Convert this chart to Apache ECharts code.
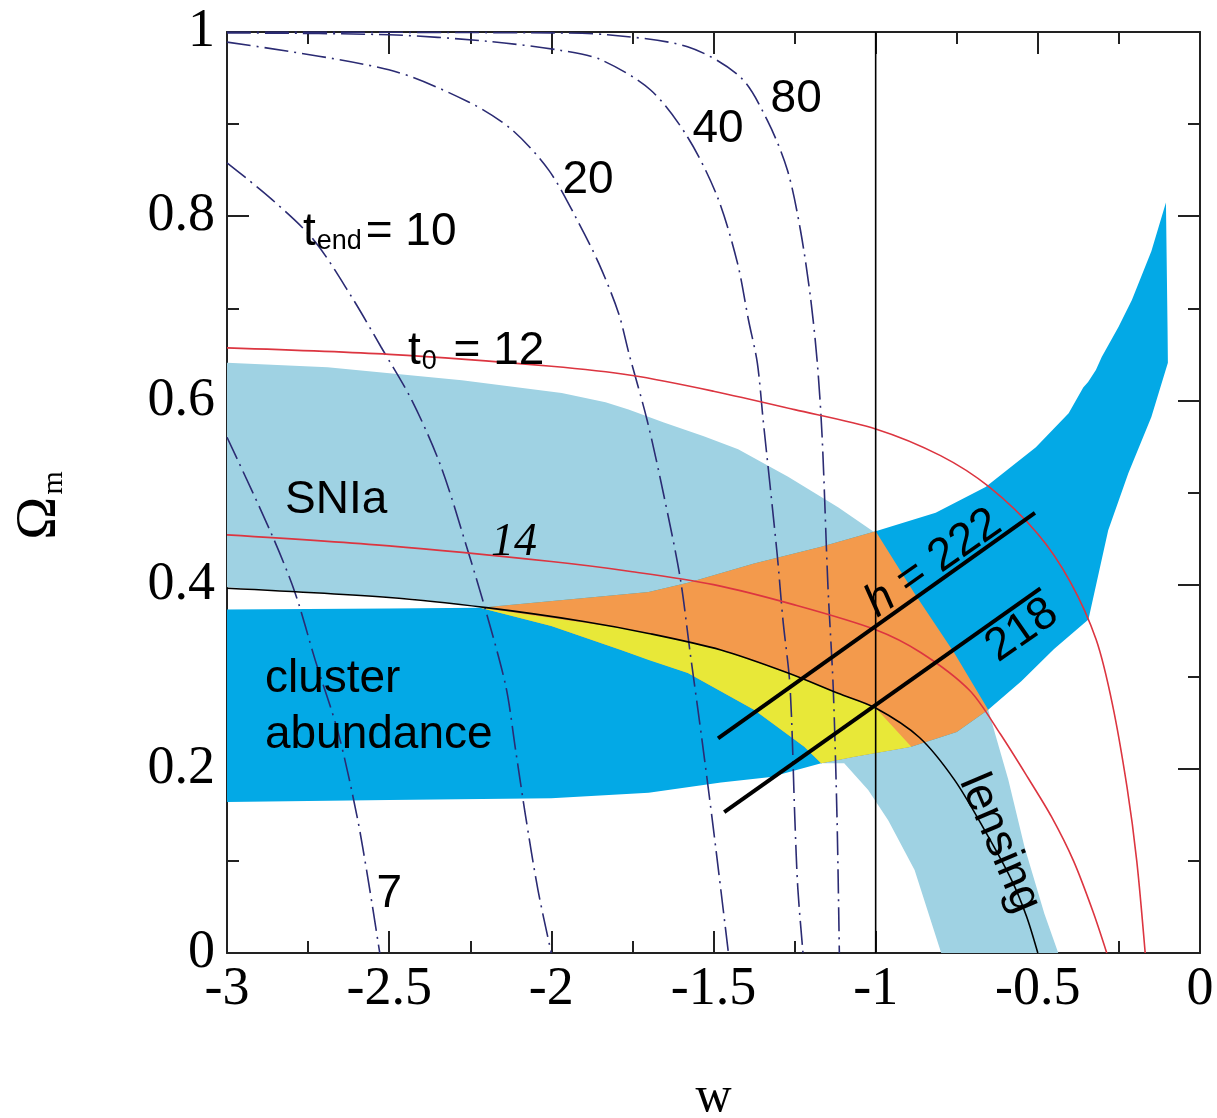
<!DOCTYPE html>
<html>
<head>
<meta charset="utf-8">
<script src="https://cdn.jsdelivr.net/npm/echarts@6/dist/echarts.min.js"></script>
<style>
  html, body { margin: 0; padding: 0; background: #ffffff; }
  #chart { width: 1217px; height: 1118px; }
</style>
</head>
<body>
<div id="chart"></div>
<script>
// ---------- tick labels ----------
const xTickValues = [-3, -2.5, -2, -1.5, -1, -0.5, 0];
const xTickLabels = ['-3', '-2.5', '-2', '-1.5', '-1', '-0.5', '0'];
const yTickValues = [0, 0.2, 0.4, 0.6, 0.8, 1];
const yTickLabels = ['0', '0.2', '0.4', '0.6', '0.8', '1'];

// ---------- constraint regions (w, Omega_m) ----------
const snia = [
  [-3, 0.641], [-2.69, 0.636], [-2.276, 0.622], [-1.968, 0.608], [-1.833, 0.598],
  [-1.762, 0.590], [-1.653, 0.576], [-1.53, 0.561], [-1.424, 0.547], [-1.27, 0.517], [-1.116, 0.484],
  [-1.005, 0.457], [-0.881, 0.391], [-0.758, 0.326], [-0.653, 0.264], [-0.591, 0.188],
  [-0.541, 0.115], [-0.48, 0.043], [-0.437, 0.0], [-0.798, 0.0], [-0.88, 0.09],
  [-0.961, 0.144], [-1.023, 0.177], [-1.097, 0.206], [-1.168, 0.206], [-1.22, 0.224],
  [-1.375, 0.264], [-1.579, 0.304], [-1.70, 0.318], [-1.785, 0.329], [-2.0, 0.355],
  [-2.22, 0.376], [-2.43, 0.385], [-3, 0.397]
];
const cluster = [
  [-3, 0.373], [-2.5, 0.374], [-2.22, 0.375], [-1.70, 0.392], [-1.579, 0.402],
  [-1.375, 0.423], [-1.168, 0.441], [-1.0, 0.458], [-0.815, 0.478], [-0.661, 0.506],
  [-0.506, 0.549], [-0.405, 0.586], [-0.36, 0.614], [-0.345, 0.62], [-0.321, 0.633],
  [-0.303, 0.647], [-0.251, 0.680], [-0.21, 0.709], [-0.15, 0.762], [-0.105, 0.815],
  [-0.1, 0.676], [-0.099, 0.641], [-0.15, 0.582], [-0.221, 0.521], [-0.283, 0.459],
  [-0.344, 0.362], [-0.45, 0.33], [-0.551, 0.295], [-0.653, 0.264], [-0.75, 0.24],
  [-0.89, 0.224], [-1.066, 0.213], [-1.168, 0.206], [-1.323, 0.191], [-1.477, 0.185],
  [-1.70, 0.174], [-2.0, 0.168], [-2.5, 0.166], [-3, 0.164]
];
const overlapOrange = [
  [-2.22, 0.375], [-1.70, 0.392], [-1.579, 0.402], [-1.375, 0.423], [-1.168, 0.441],
  [-1.0, 0.458], [-0.881, 0.391], [-0.758, 0.326], [-0.653, 0.264], [-0.75, 0.24],
  [-0.89, 0.224], [-1.066, 0.213], [-1.168, 0.206], [-1.22, 0.224], [-1.375, 0.264],
  [-1.579, 0.304], [-1.785, 0.329], [-2.0, 0.355]
];
const overlapYellow = [
  [-2.22, 0.375], [-1.785, 0.353], [-1.70, 0.347], [-1.477, 0.329], [-1.27, 0.304],
  [-1.116, 0.282], [-1.0, 0.266], [-0.89, 0.224], [-1.066, 0.213], [-1.168, 0.206],
  [-1.22, 0.224], [-1.375, 0.264], [-1.579, 0.304], [-1.70, 0.318], [-1.785, 0.329],
  [-2.0, 0.355]
];

// ---------- curves ----------
const lensing = [
  [-3, 0.396], [-2.5, 0.386], [-2.2, 0.375], [-1.9, 0.36], [-1.7, 0.347],
  [-1.477, 0.329], [-1.27, 0.304], [-1.116, 0.282], [-1.0, 0.266], [-0.865, 0.234],
  [-0.757, 0.188], [-0.665, 0.134], [-0.582, 0.08], [-0.535, 0.04], [-0.5, 0]
];
const t0_12 = [
  [-3, 0.657], [-2.5, 0.650], [-2.0, 0.637], [-1.75, 0.627], [-1.5, 0.610],
  [-1.25, 0.590], [-1.0, 0.569], [-0.8, 0.540], [-0.65, 0.506], [-0.5, 0.455],
  [-0.4, 0.403], [-0.32, 0.34], [-0.27, 0.27], [-0.225, 0.18], [-0.195, 0.1], [-0.169, 0]
];
const t0_14 = [
  [-3, 0.454], [-2.5, 0.442], [-2.0, 0.425], [-1.75, 0.414], [-1.5, 0.400],
  [-1.25, 0.378], [-1.0, 0.351], [-0.86, 0.326], [-0.71, 0.285], [-0.616, 0.238],
  [-0.53, 0.19], [-0.458, 0.148], [-0.39, 0.1], [-0.33, 0.045], [-0.2875, 0]
];
const tEnd7 = [
  [-3, 0.56], [-2.864, 0.456], [-2.79, 0.391], [-2.728, 0.318], [-2.657, 0.239],
  [-2.60, 0.15], [-2.565, 0.08], [-2.529, 0]
];
const tEnd10 = [
  [-3, 0.858], [-2.861, 0.818], [-2.732, 0.774], [-2.615, 0.712], [-2.525, 0.658],
  [-2.43, 0.6], [-2.34, 0.528], [-2.255, 0.434], [-2.2, 0.369], [-2.14, 0.289],
  [-2.11, 0.22], [-2.08, 0.15], [-2.041, 0.068], [-2.0, 0]
];
const tEnd20 = [
  [-3, 0.989], [-2.501, 0.959], [-2.255, 0.924], [-2.122, 0.894], [-2.008, 0.85],
  [-1.925, 0.799], [-1.854, 0.749], [-1.793, 0.695], [-1.76, 0.65], [-1.705, 0.579],
  [-1.655, 0.5], [-1.603, 0.408], [-1.572, 0.326], [-1.535, 0.23], [-1.50, 0.134], [-1.454, 0]
];
const tEnd40 = [
  [-3, 0.999], [-2.5, 0.997], [-2.2, 0.99], [-1.97, 0.98], [-1.848, 0.97],
  [-1.694, 0.937], [-1.58, 0.886], [-1.488, 0.821], [-1.426, 0.749], [-1.392, 0.687],
  [-1.365, 0.641], [-1.347, 0.579], [-1.304, 0.434], [-1.286, 0.362], [-1.264, 0.289],
  [-1.249, 0.144], [-1.24, 0.07], [-1.224, 0]
];
const tEnd80 = [
  [-3, 1.0], [-2.0, 0.999], [-1.827, 0.997], [-1.58, 0.984], [-1.417, 0.951],
  [-1.334, 0.904], [-1.272, 0.85], [-1.232, 0.785], [-1.201, 0.712], [-1.18, 0.641],
  [-1.165, 0.56], [-1.147, 0.397], [-1.131, 0.289], [-1.119, 0.144], [-1.112, 0]
];
const wMinusOne = [[-1, 0], [-1, 1]];
const h222 = [[-1.486, 0.233], [-0.509, 0.478]];
const h218 = [[-1.467, 0.153], [-0.492, 0.396]];

// ---------- annotations: [text, w, Omega_m, anchor, rotate] ----------
const annotations = [
  ['{t|t}{s|end}{t|= 10}', -2.766, 0.785, 'left', 0],
  ['{t|t}{s|0}{t| = 12}', -2.442, 0.655, 'left', 0],
  ['{t|SNIa}', -2.821, 0.494, 'left', 0],
  ['{t|cluster}', -2.883, 0.299, 'left', 0],
  ['{t|abundance}', -2.883, 0.239, 'left', 0],
  ['{t|20}', -1.887, 0.841, 'center', 0],
  ['{t|40}', -1.486, 0.897, 'center', 0],
  ['{t|80}', -1.245, 0.929, 'center', 0],
  ['{t|7}', -2.50, 0.066, 'center', 0],
  ['{it|14}', -2.115, 0.445, 'center', 0],
  ['{h|h}{t| = 222}', -0.826, 0.425, 'center', 35],
  ['{t|218}', -0.552, 0.352, 'center', 35],
  ['{t|lensing}', -0.612, 0.12, 'center', -67]
];

const C = {
  lightBlue: '#9fd2e3',
  brightBlue: '#03a9e6',
  orange: '#f39a4c',
  yellow: '#e8e838',
  red: '#dc3540',
  navy: '#2b2b73',
  black: '#000000'
};

function pickLabel(values, labels) {
  return function (v) {
    for (let i = 0; i < values.length; i++) {
      if (Math.abs(values[i] - v) < 1e-9) return labels[i];
    }
    return '';
  };
}

function polygonSeries(name, pts, color, z) {
  return {
    type: 'custom', name: name, coordinateSystem: 'cartesian2d',
    xAxisIndex: 0, yAxisIndex: 0, data: pts, encode: { x: 0, y: 1 },
    z: z, silent: true,
    renderItem: function (params, api) {
      if (params.dataIndex !== 0) return null;
      return {
        type: 'polygon',
        shape: { points: pts.map(function (p) { return api.coord(p); }) },
        style: { fill: color, stroke: null }
      };
    }
  };
}

function lineSeries(name, pts, color, width, type, smooth, z) {
  return {
    type: 'line', name: name, data: pts, xAxisIndex: 0, yAxisIndex: 0,
    showSymbol: false, symbol: 'none', smooth: smooth, z: z, silent: true,
    lineStyle: { color: color, width: width, type: type, cap: 'butt' }
  };
}

const dashDot = [24, 6, 2, 6];

const labelSeries = {
  type: 'scatter', name: 'labels', xAxisIndex: 0, yAxisIndex: 0, z: 30, silent: true,
  symbolSize: 0,
  itemStyle: { opacity: 1 },
  data: annotations.map(function (a) {
    return {
      value: [a[1], a[2]],
      label: {
        show: true,
        formatter: a[0],
        position: a[3] === 'left' ? 'right' : 'inside',
        distance: 0,
        rotate: a[4],
        align: a[3] === 'left' ? 'left' : 'center',
        verticalAlign: 'middle'
      }
    };
  }),
  label: {
    show: true,
    color: C.black,
    opacity: 1,
    rich: {
      t: { fontFamily: 'Liberation Sans', fontSize: 46, color: C.black, lineHeight: 50, verticalAlign: 'bottom' },
      s: { fontFamily: 'Liberation Sans', fontSize: 27, color: C.black, lineHeight: 30, verticalAlign: 'bottom', padding: [0, 4, 0, 1] },
      h: { fontFamily: 'Liberation Sans', fontStyle: 'italic', fontSize: 46, color: C.black, lineHeight: 50, verticalAlign: 'bottom' },
      it: { fontFamily: 'Liberation Serif', fontStyle: 'italic', fontSize: 46, color: C.black, lineHeight: 50 }
    }
  }
};

const axisCommon = {
  type: 'value',
  axisLine: { show: true, onZero: false, lineStyle: { color: '#222', width: 2 } },
  axisTick: { show: true, inside: true, length: 22, lineStyle: { color: '#222', width: 2 } },
  minorTick: { show: true, splitNumber: 2, length: 12, lineStyle: { color: '#222', width: 2 } },
  splitLine: { show: false },
  minorSplitLine: { show: false }
};

const chart = echarts.init(document.getElementById('chart'), null, { renderer: 'canvas' });
chart.setOption({
  animation: false,
  backgroundColor: '#ffffff',
  grid: { left: 227, top: 32, width: 973, height: 921, show: false, containLabel: false, outerBoundsMode: 'none' },
  xAxis: [
    Object.assign({}, axisCommon, {
      min: -3, max: 0, interval: 0.5, position: 'bottom',
      axisLabel: {
        show: true, margin: 10, fontFamily: 'Liberation Serif', fontSize: 54, color: C.black,
        formatter: pickLabel(xTickValues, xTickLabels)
      },
      name: 'w', nameLocation: 'middle', nameGap: 120,
      nameTextStyle: { fontFamily: 'Liberation Serif', fontSize: 50, color: C.black }
    }),
    Object.assign({}, axisCommon, {
      min: -3, max: 0, interval: 0.5, position: 'top', axisLabel: { show: false }
    })
  ],
  yAxis: [
    Object.assign({}, axisCommon, {
      min: 0, max: 1, interval: 0.2, position: 'left',
      axisLabel: {
        show: true, margin: 12, fontFamily: 'Liberation Serif', fontSize: 54, color: C.black,
        formatter: pickLabel(yTickValues, yTickLabels)
      },
      name: '{o|Ω}{m|m}', nameLocation: 'middle', nameRotate: 90, nameGap: 158,
      nameTextStyle: {
        padding: [0, 26, 0, 0],
        rich: {
          o: { fontFamily: 'Liberation Serif', fontSize: 58, color: C.black, lineHeight: 58, verticalAlign: 'bottom' },
          m: { fontFamily: 'Liberation Serif', fontSize: 30, color: C.black, lineHeight: 30, verticalAlign: 'bottom', padding: [0, 0, 0, 2] }
        }
      }
    }),
    Object.assign({}, axisCommon, {
      min: 0, max: 1, interval: 0.2, position: 'right', axisLabel: { show: false }
    })
  ],
  series: [
    polygonSeries('SNIa', snia, C.lightBlue, 1),
    polygonSeries('cluster abundance', cluster, C.brightBlue, 2),
    polygonSeries('SNIa + clusters', overlapOrange, C.orange, 3),
    polygonSeries('SNIa + clusters + lensing', overlapYellow, C.yellow, 4),
    lineSeries('t_end = 7', tEnd7, C.navy, 1.6, dashDot, 0.3, 10),
    lineSeries('t_end = 10', tEnd10, C.navy, 1.6, dashDot, 0.3, 10),
    lineSeries('t_end = 20', tEnd20, C.navy, 1.6, dashDot, 0.3, 10),
    lineSeries('t_end = 40', tEnd40, C.navy, 1.6, dashDot, 0.3, 10),
    lineSeries('t_end = 80', tEnd80, C.navy, 1.6, dashDot, 0.3, 10),
    lineSeries('t0 = 12', t0_12, C.red, 1.6, 'solid', 0.3, 11),
    lineSeries('t0 = 14', t0_14, C.red, 1.6, 'solid', 0.3, 11),
    lineSeries('lensing', lensing, C.black, 1.6, 'solid', 0.3, 12),
    lineSeries('w = -1', wMinusOne, C.black, 1.6, 'solid', false, 12),
    lineSeries('h = 222', h222, C.black, 4, 'solid', false, 13),
    lineSeries('h = 218', h218, C.black, 4, 'solid', false, 13),
    labelSeries
  ]
});
</script>
</body>
</html>
